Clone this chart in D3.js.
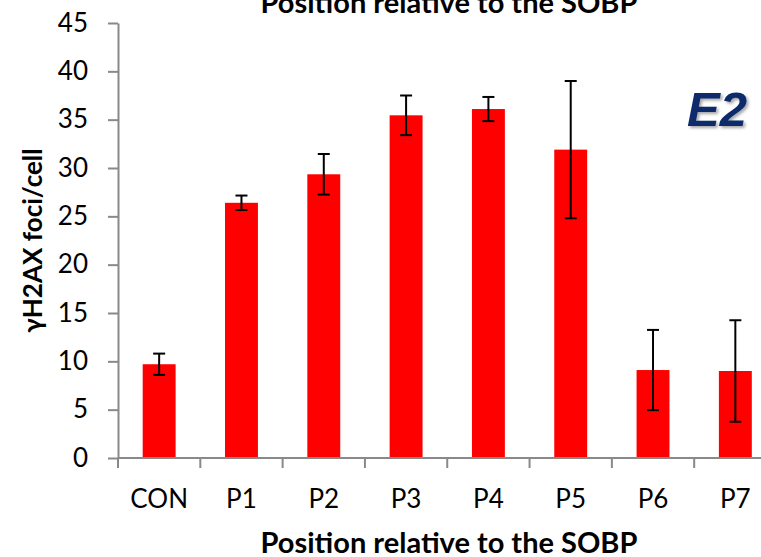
<!DOCTYPE html>
<html>
<head>
<meta charset="utf-8">
<script src="https://cdn.jsdelivr.net/npm/d3@7"></script>
<style>
  body { margin: 0; background: #fff; overflow: hidden; }
  svg { display: block; }
</style>
</head>
<body>
<div id="chart"></div>
<script>
// data
var categories = ["CON", "P1", "P2", "P3", "P4", "P5", "P6", "P7"]
var means = [9.7, 26.4, 29.35, 35.45, 36.1, 31.9, 9.1, 9.0]
var errors = [1.1, 0.75, 2.1, 2.05, 1.25, 7.1, 4.15, 5.25]
var yTicks = [0, 5, 10, 15, 20, 25, 30, 35, 40, 45]

var width = 761, height = 557
var margin = {top: 23, bottom: 99, left: 118}
var plotW = 658.5   // the plot runs past the right edge of the picture
var plotH = height - margin.top - margin.bottom

var svg = d3.select("#chart").append("svg")
    .attr("width", width)
    .attr("height", height)

var defs = svg.append("defs")
var shadow = defs.append("filter").attr("id", "shadow")
    .attr("x", "-20%").attr("y", "-20%").attr("width", "150%").attr("height", "150%")
shadow.append("feDropShadow")
    .attr("dx", 2).attr("dy", 2).attr("stdDeviation", 1.5)
    .attr("flood-color", "#000").attr("flood-opacity", 0.35)

var plot = svg.append("g")
    .attr("transform", `translate(${margin.left},${margin.top})`)

var xScale = d3.scaleBand().domain(categories).range([0, plotW]).paddingInner(0.6).paddingOuter(0.3)
var xEdge = d3.scaleLinear().domain([0, categories.length]).range([0, plotW])
var yScale = d3.scaleLinear().domain([0, 45]).range([plotH, 0])

var axisColor = "#898989"
var font = "Lato, 'Open Sans', sans-serif"

// bars
plot.selectAll("rect.bar")
    .data(means)
    .enter().append("rect")
    .attr("class", "bar")
    .attr("x", (d, i) => xScale(categories[i]))
    .attr("width", xScale.bandwidth())
    .attr("y", d => yScale(d))
    .attr("height", d => plotH - yScale(d))
    .attr("fill", "#ff0000")

// error bars
var capW = 6
var cx = i => xScale(categories[i]) + xScale.bandwidth() / 2
var eb = plot.selectAll("g.err")
    .data(means)
    .enter().append("g")
    .attr("class", "err")
    .attr("stroke", "#000")
    .attr("stroke-width", 2)
eb.append("line")
    .attr("x1", (d, i) => cx(i))
    .attr("x2", (d, i) => cx(i))
    .attr("y1", (d, i) => yScale(d + errors[i]))
    .attr("y2", (d, i) => yScale(d - errors[i]))
eb.append("line")
    .attr("x1", (d, i) => cx(i) - capW)
    .attr("x2", (d, i) => cx(i) + capW)
    .attr("y1", (d, i) => yScale(d + errors[i]))
    .attr("y2", (d, i) => yScale(d + errors[i]))
eb.append("line")
    .attr("x1", (d, i) => cx(i) - capW)
    .attr("x2", (d, i) => cx(i) + capW)
    .attr("y1", (d, i) => yScale(d - errors[i]))
    .attr("y2", (d, i) => yScale(d - errors[i]))

// y axis
var yAxis = d3.axisLeft(yScale).tickValues(yTicks).tickSize(10).tickSizeOuter(0).tickPadding(20)
var gy = plot.append("g").attr("class", "y axis").call(yAxis)
gy.select(".domain").attr("stroke", axisColor).attr("stroke-width", 2)
gy.selectAll(".tick line").attr("stroke", axisColor).attr("stroke-width", 2)
gy.selectAll(".tick text")
    .attr("fill", "#000")
    .style("font-family", font)
    .style("font-size", "26px")

// x axis: ticks sit on the category boundaries
var gx = plot.append("g").attr("class", "x axis").attr("transform", `translate(0,${plotH})`)
gx.append("line")
    .attr("x1", 0).attr("x2", plotW)
    .attr("y1", 0).attr("y2", 0)
    .attr("stroke", axisColor).attr("stroke-width", 2)
gx.selectAll("line.tk")
    .data(d3.range(categories.length + 1))
    .enter().append("line")
    .attr("class", "tk")
    .attr("x1", d => xEdge(d)).attr("x2", d => xEdge(d))
    .attr("y1", 0).attr("y2", 10)
    .attr("stroke", axisColor).attr("stroke-width", 2)
gx.selectAll("text.lbl")
    .data(categories)
    .enter().append("text")
    .attr("class", "lbl")
    .attr("x", d => xScale(d) + xScale.bandwidth() / 2)
    .attr("y", 50)
    .attr("text-anchor", "middle")
    .style("font-family", font)
    .style("font-size", "26px")
    .text(d => d)

// titles
var titleX = 449
svg.append("text")
    .attr("x", titleX).attr("y", 13)
    .attr("text-anchor", "middle")
    .style("font-family", font)
    .style("font-weight", "bold")
    .style("font-size", "29px")
    .text("Position relative to the SOBP")
svg.append("text")
    .attr("x", titleX).attr("y", 553)
    .attr("text-anchor", "middle")
    .style("font-family", font)
    .style("font-weight", "bold")
    .style("font-size", "29px")
    .text("Position relative to the SOBP")
svg.append("text")
    .attr("transform", `translate(42,${margin.top + plotH / 2}) rotate(-90)`)
    .attr("text-anchor", "middle")
    .style("font-family", font)
    .style("font-weight", "bold")
    .style("font-size", "26px")
    .text("γH2AX foci/cell")

// panel tag
svg.append("text")
    .attr("x", 717).attr("y", 126)
    .attr("text-anchor", "middle")
    .attr("fill", "#0d2a6b")
    .attr("filter", "url(#shadow)")
    .style("font-family", "'Liberation Sans', Arial, sans-serif")
    .style("font-weight", "bold").style("font-style", "italic")
    .style("font-size", "49px")
    .text("E2")
</script>
</body>
</html>
